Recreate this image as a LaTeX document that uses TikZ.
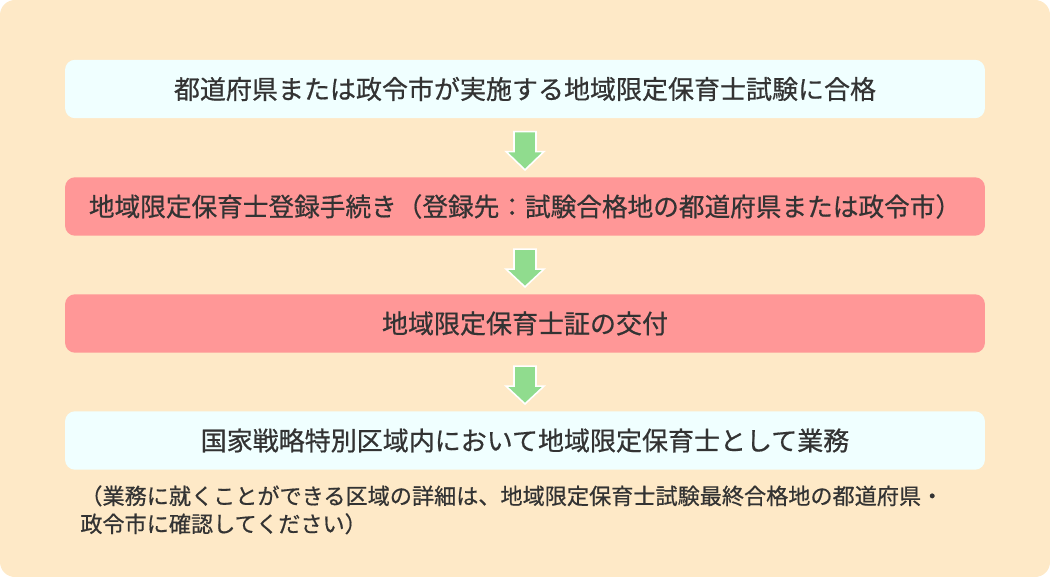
\documentclass[tikz,border=0pt]{standalone}
\usepackage{fontspec}
\newfontfamily\jpfont[FakeBold=0.6]{Noto Sans CJK JP}
\usepackage{tikz}
\usetikzlibrary{calc}
\definecolor{cream}{HTML}{FEE9C7}
\definecolor{paleblue}{HTML}{F0FFFF}
\definecolor{salmon}{HTML}{FF9797}
\definecolor{leaf}{HTML}{90DC8E}
\definecolor{ink}{HTML}{333333}

\begin{document}
\begin{tikzpicture}[
    x=0.02cm, y=-0.02cm,
    stepbox/.style={rounded corners=0.2cm, minimum width=18.4cm, minimum height=1.17cm, align=center, text=ink, font=\jpfont\fontsize{14.8}{17}\selectfont, fill=paleblue},
    arr/.style={fill=leaf, draw=white, line width=0.9pt, line join=miter}
]
\useasboundingbox (0,0) rectangle (1050,577);
\fill[cream, rounded corners=0.3cm] (0,0) rectangle (1050,577);

\node[stepbox] (exam) at (525,89) {都道府県または政令市が実施する地域限定保育士試験に合格};
\node[stepbox, fill=salmon] (reg) at (525,206.5) {\fontsize{14.6}{17}\selectfont 地域限定保育士登録手続き（登録先：試験合格地の都道府県または政令市）};
\node[stepbox, fill=salmon] (cert) at (525,323.5) {地域限定保育士証の交付};
\node[stepbox] (work) at (525,440.5) {国家戦略特別区域内において地域限定保育士として業務};
\node[anchor=north west, align=left, text=ink, font=\jpfont\fontsize{12.6}{15.9}\selectfont, inner sep=0pt] (note) at (80,485)
    {（業務に就くことができる区域の詳細は、地域限定保育士試験最終合格地の都道府県・\\政令市に確認してください）};

% down arrows between the steps
\foreach \a/\b in {exam/reg, reg/cert, cert/work}
    \draw[arr] ($(\a.south)+(-11,13)$) -- ++(22,0) -- ++(0,20) -- ++(8,0)
        -- ($(\b.north)+(0,-7)$) -- ($(\a.south)+(-19,33)$) -- ++(8,0) -- cycle;
\end{tikzpicture}
\end{document}
